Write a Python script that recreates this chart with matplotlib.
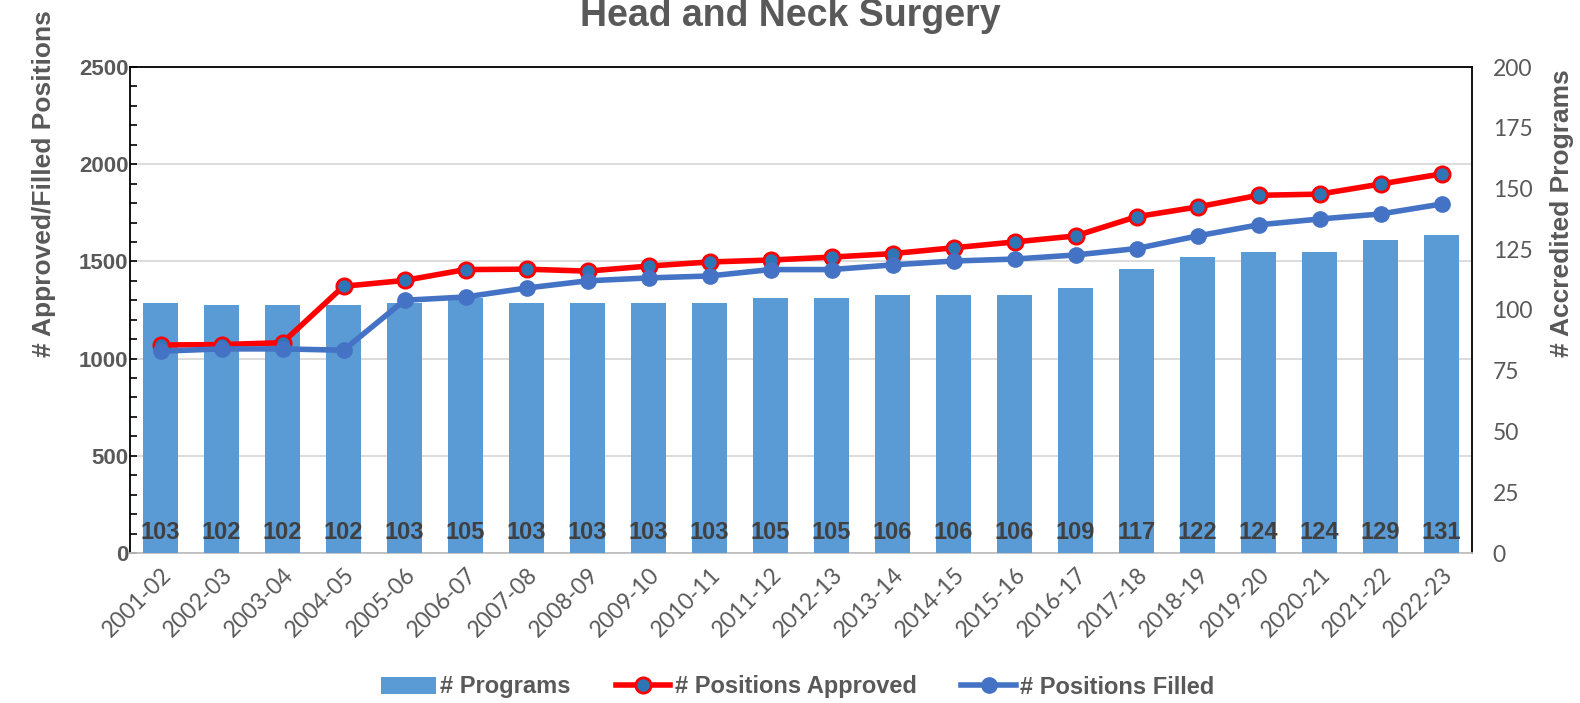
import matplotlib
matplotlib.use("Agg")
import matplotlib.pyplot as plt
from matplotlib.ticker import MultipleLocator
import numpy as np

years = ["2001-02", "2002-03", "2003-04", "2004-05", "2005-06", "2006-07",
         "2007-08", "2008-09", "2009-10", "2010-11", "2011-12", "2012-13",
         "2013-14", "2014-15", "2015-16", "2016-17", "2017-18", "2018-19",
         "2019-20", "2020-21", "2021-22", "2022-23"]
programs = [103, 102, 102, 102, 103, 105, 103, 103, 103, 103, 105, 105,
            106, 106, 106, 109, 117, 122, 124, 124, 129, 131]
approved = [1070, 1072, 1082, 1372, 1402, 1458, 1460, 1450, 1476, 1497, 1507, 1522,
            1540, 1570, 1600, 1631, 1730, 1780, 1840, 1846, 1898, 1950]
filled = [1038, 1050, 1050, 1043, 1300, 1317, 1363, 1400, 1415, 1425, 1458, 1458,
          1482, 1502, 1512, 1533, 1566, 1631, 1688, 1718, 1744, 1795]

grey = "#595959"
x = np.arange(len(years))

fig = plt.figure(figsize=(15.8, 7.03), dpi=100)
ax = fig.add_axes([130 / 1580, 1 - 553 / 703, (1472 - 130) / 1580, (553 - 67) / 703])
ax_bar = ax.twinx()
ax_line = ax.twinx()

# left axis: grid + ticks
ax.set_ylim(0, 2500)
ax.set_xlim(-0.5, len(years) - 0.5)
ax.yaxis.set_major_locator(MultipleLocator(500))
ax.yaxis.set_minor_locator(MultipleLocator(100))
ax.grid(axis="y", color="#D9D9D9", linewidth=1.3)
ax.set_axisbelow(True)
ax.tick_params(axis="y", which="both", direction="in", length=5, width=1.2, color="black")
ax.tick_params(axis="y", labelsize=16, labelcolor=grey, pad=1)
for t in ax.get_yticklabels():
    t.set_fontweight("bold")
    t.set_fontfamily("Liberation Sans")
ax.set_xticks(x)
ax.set_xticklabels(years, rotation=45, ha="right", rotation_mode="anchor",
                   fontsize=16.5, color=grey, family="Lato")
ax.tick_params(axis="x", length=0, pad=8)
for s in ["left", "top", "right"]:
    ax.spines[s].set_color("black")
    ax.spines[s].set_linewidth(1.3)
ax.spines["bottom"].set_color("#BFBFBF")
ax.spines["bottom"].set_linewidth(1.3)

# right axis: bars
bars = ax_bar.bar(x, programs, width=0.57, color="#5B9BD5", label="# Programs", zorder=2)
ax_bar.set_ylim(0, 200)
ax_bar.yaxis.set_major_locator(MultipleLocator(25))
ax_bar.tick_params(axis="y", length=0, labelsize=16.5, labelcolor=grey, pad=15)
for t in ax_bar.get_yticklabels():
    t.set_fontfamily("Lato")
for s in ax_bar.spines.values():
    s.set_visible(False)
for xi, v in zip(x, programs):
    ax_bar.annotate(str(v), (xi, 0), xytext=(0, 14.5), textcoords="offset points",
                    ha="center", va="center", fontsize=17, fontweight="bold",
                    color="#404040", family="Liberation Sans")

# lines on top
ax_line.set_ylim(0, 2500)
ax_line.set_yticks([])
for s in ax_line.spines.values():
    s.set_visible(False)
l1, = ax_line.plot(x, approved, color="#FF0000", linewidth=4, marker="o",
                   markersize=11, markerfacecolor="#2E75B6", markeredgecolor="#FF0000",
                   markeredgewidth=2, label="# Positions Approved", zorder=3)
l2, = ax_line.plot(x, filled, color="#4472C4", linewidth=4, marker="o",
                   markersize=11, markerfacecolor="#4472C4", markeredgecolor="#4472C4",
                   label="# Positions Filled", zorder=3)

# axis titles (Excel places them off-centre)
fig.text(44 / 1580, 1 - 357 / 703, "# Approved/Filled Positions", rotation=90,
         ha="center", va="bottom", fontsize=19, fontweight="bold", color=grey,
         family="Liberation Sans")
fig.text(1562 / 1580, 1 - 357 / 703, "# Accredited Programs", rotation=90,
         ha="center", va="bottom", fontsize=19, fontweight="bold", color=grey,
         family="Liberation Sans")

fig.text(0.5, 1 - 26 / 703, "Head and Neck Surgery", ha="center", va="baseline",
         fontsize=27, fontweight="bold", color=grey, family="Liberation Sans")

leg = fig.legend([bars, l1, l2], ["# Programs", "# Positions Approved", "# Positions Filled"],
                 loc="center", bbox_to_anchor=(0.5 + 8 / 1580, 1 - 687 / 703), ncol=3,
                 frameon=False,
                 prop={"family": "Liberation Sans", "weight": "bold", "size": 17},
                 handlelength=2.3, handletextpad=0.2, columnspacing=1.9,
                 borderpad=0)
for t in leg.get_texts():
    t.set_color(grey)

fig.savefig("out.png", dpi=100)
